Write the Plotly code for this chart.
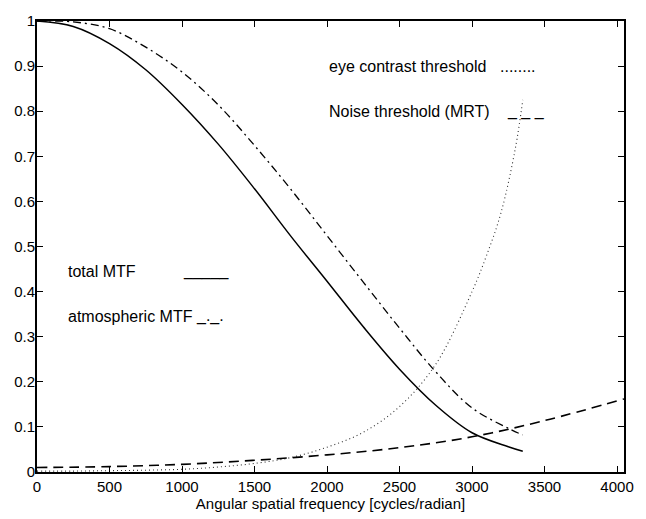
import plotly.graph_objects as go

# Angular spatial frequency samples [cycles/radian]
freq_mtf = [0, 250, 500, 750, 1000, 1250, 1500, 1750, 2000, 2250, 2500, 2750, 3000, 3250, 3350]
total_mtf = [1.000, 0.988, 0.950, 0.892, 0.815, 0.727, 0.628, 0.523, 0.423, 0.322, 0.228, 0.148, 0.087, 0.056, 0.046]
atm_mtf = [1.000, 0.998, 0.983, 0.942, 0.887, 0.814, 0.724, 0.627, 0.524, 0.421, 0.319, 0.222, 0.142, 0.097, 0.082]

freq_eye = [0, 250, 500, 750, 1000, 1250, 1500, 1750, 2000, 2250, 2500, 2750, 3000, 3100, 3200, 3300, 3350]
eye_thresh = [0.002, 0.002, 0.003, 0.004, 0.006, 0.011, 0.019, 0.032, 0.055, 0.088, 0.145, 0.239, 0.400, 0.480, 0.575, 0.720, 0.825]

freq_mrt = [0, 500, 1000, 1500, 2000, 2500, 3000, 3500, 4048]
mrt = [0.010, 0.012, 0.017, 0.026, 0.038, 0.054, 0.078, 0.114, 0.162]

x_ticks = [0, 500, 1000, 1500, 2000, 2500, 3000, 3500, 4000]
y_ticks = [0, 0.1, 0.2, 0.3, 0.4, 0.5, 0.6, 0.7, 0.8, 0.9, 1]
y_tick_text = ["0", "0.1", "0.2", "0.3", "0.4", "0.5", "0.6", "0.7", "0.8", "0.9", "1"]

FONT = "Liberation Sans, Arial, sans-serif"

fig = go.Figure()
fig.add_trace(go.Scatter(x=freq_mtf, y=total_mtf, mode="lines", line_shape="spline",
                         line=dict(color="black", width=1.5), name="total MTF"))
fig.add_trace(go.Scatter(x=freq_mtf, y=atm_mtf, mode="lines", line_shape="spline",
                         line=dict(color="black", width=1.3, dash="8px,4px,2px,4px"), name="atmospheric MTF"))
fig.add_trace(go.Scatter(x=freq_eye, y=eye_thresh, mode="lines", line_shape="spline",
                         line=dict(color="#333333", width=1.1, dash="1px,3px"), name="eye contrast threshold"))
fig.add_trace(go.Scatter(x=freq_mrt, y=mrt, mode="lines", line_shape="spline",
                         line=dict(color="black", width=1.6, dash="10px,6px"), name="Noise threshold (MRT)"))

labels = [
    (2000, 0.90, "eye contrast threshold"),
    (3180, 0.90, "........"),
    (2000, 0.80, "Noise threshold (MRT)"),
    (3225, 0.80, "_ _ _"),
    (200, 0.445, "total MTF"),
    (993, 0.445, "_____"),
    (200, 0.345, "atmospheric MTF"),
    (1082, 0.345, "_._."),
]
for lx, ly, lt in labels:
    fig.add_annotation(x=lx, y=ly, xref="x", yref="y", text=lt, showarrow=False,
                       xanchor="left", yanchor="middle",
                       font=dict(family=FONT, size=16, color="black"))

axis_common = dict(showline=True, linecolor="black", linewidth=1.8, mirror="ticks",
                   ticks="inside", ticklen=6, tickcolor="black", tickwidth=1,
                   showgrid=False, zeroline=False,
                   tickfont=dict(family=FONT, size=15, color="black"))

fig.update_xaxes(range=[0, 4048], tickmode="array", tickvals=x_ticks,
                 ticktext=[str(v) for v in x_ticks],
                 title=dict(text="Angular spatial frequency [cycles/radian]",
                            font=dict(family=FONT, size=15, color="black"), standoff=2),
                 **axis_common)
fig.update_yaxes(range=[0, 1], tickmode="array", tickvals=y_ticks, ticktext=y_tick_text,
                 ticklabelstandoff=-3, **axis_common)

fig.update_layout(width=646, height=519, showlegend=False,
                  plot_bgcolor="white", paper_bgcolor="white",
                  margin=dict(l=37, r=14, t=15, b=42))

fig.write_html("out.html")
